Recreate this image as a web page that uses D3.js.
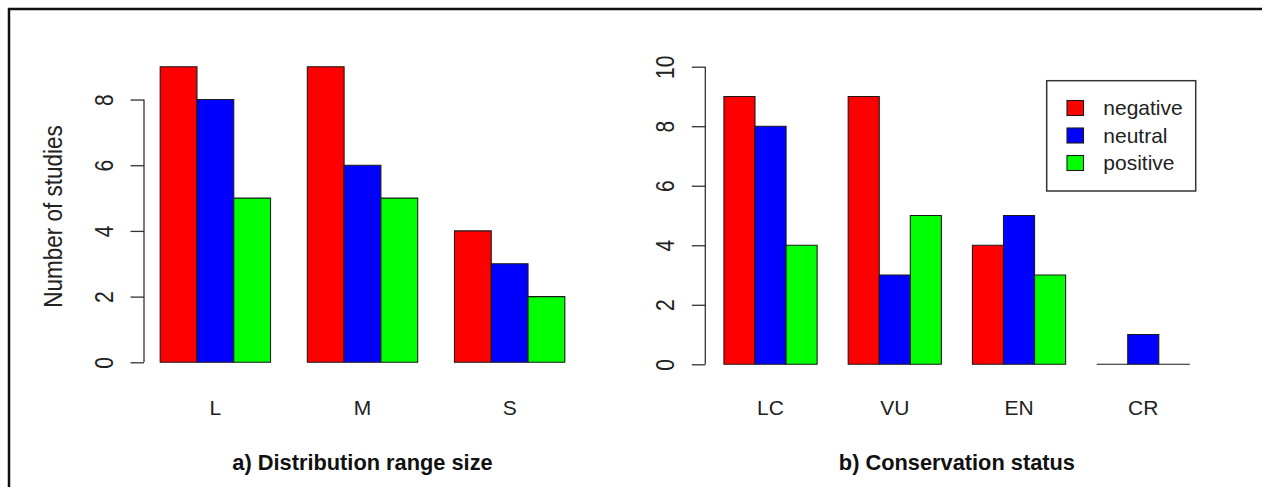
<!DOCTYPE html>
<html>
<head>
<meta charset="utf-8">
<script src="https://cdn.jsdelivr.net/npm/d3@7"></script>
<style>
  html, body { margin: 0; padding: 0; background: #fff; }
  svg { display: block; font-family: "Liberation Sans", Arial, Helvetica, sans-serif; }
</style>
</head>
<body>
<svg id="chart" width="1262" height="487"></svg>
<script>
// ---- Data ----
const seriesNames = ["negative", "neutral", "positive"];
const seriesColors = ["#ff0000", "#0000ff", "#00ff00"];

const categoriesA = ["L", "M", "S"];
const negativeA = [9, 9, 4];
const neutralA = [8, 6, 3];
const positiveA = [5, 5, 2];
const ticksA = [0, 2, 4, 6, 8];

const categoriesB = ["LC", "VU", "EN", "CR"];
const negativeB = [9, 9, 4, 0];
const neutralB = [8, 3, 5, 1];
const positiveB = [4, 5, 3, 0];
const ticksB = [0, 2, 4, 6, 8, 10];

const titleA = "a) Distribution range size";
const titleB = "b) Conservation status";
const yTitle = "Number of studies";

// ---- Drawing ----
const svg = d3.select("#chart");
const FS = 21;

// outer frame (top and left edges visible)
svg.append("path")
  .attr("d", "M9,487V9H1262")
  .attr("fill", "none").attr("stroke", "#111").attr("stroke-width", 2.5);

function panel(opts) {
  const { cats, series, ticks, yDomainMax, xRange, yRange, title, showYTitle, nUnits } = opts;
  // R barplot layout: each group = 1 gap + 3 bars; xlim extended 4%
  const lo = 1, hi = nUnits;
  const ext = (hi - lo) * 0.04;
  const x = d3.scaleLinear().domain([lo - ext, hi + ext]).range(xRange);
  const y = d3.scaleLinear().domain([0, yDomainMax]).range(yRange);
  const axisX = xRange[0];
  const g = svg.append("g");

  // bars
  const bars = [];
  cats.forEach((c, gi) => {
    series.forEach((vals, si) => {
      const u0 = 1 + gi * (series.length + 1) + si;
      bars.push({ u0, u1: u0 + 1, v: vals[gi], color: seriesColors[si] });
    });
  });
  g.selectAll("path.bar").data(bars).join("path")
    .attr("class", "bar")
    .attr("d", d => `M${x(d.u0)},${y(0)}V${y(d.v)}H${x(d.u1)}V${y(0)}Z`)
    .attr("fill", d => d.color)
    .attr("stroke", "#1a1a1a")
    .attr("stroke-width", 1.1);

  // y axis
  const axis = d3.axisLeft(y).tickValues(ticks).tickSize(13.5).tickSizeOuter(0).tickFormat(d3.format("d"));
  const ag = g.append("g").attr("transform", `translate(${axisX},0)`).call(axis);
  ag.select(".domain").remove();
  ag.selectAll(".tick line").attr("stroke", "#333").attr("stroke-width", 1.3);
  ag.append("line")
    .attr("x1", 0).attr("x2", 0)
    .attr("y1", y(ticks[0])).attr("y2", y(ticks[ticks.length - 1]))
    .attr("stroke", "#333").attr("stroke-width", 1.3);
  ag.selectAll(".tick text")
    .attr("x", null).attr("dy", null)
    .attr("transform", "translate(-31,0) scale(1.25,1) rotate(-90)")
    .attr("text-anchor", "middle")
    .attr("fill", "#222")
    .style("font-size", FS + "px")
    .style("font-family", '"Liberation Sans", Arial, sans-serif');

  // category labels
  g.selectAll("text.cat").data(cats).join("text")
    .attr("class", "cat")
    .attr("x", (c, gi) => x(1 + gi * (series.length + 1) + series.length / 2))
    .attr("y", 415)
    .attr("text-anchor", "middle")
    .attr("fill", "#222")
    .style("font-size", FS + "px")
    .text(c => c);

  // panel title
  g.append("text")
    .attr("x", (xRange[0] + xRange[1]) / 2)
    .attr("y", 470)
    .attr("text-anchor", "middle")
    .attr("fill", "#111")
    .style("font-size", "21.8px")
    .style("font-weight", "bold")
    .text(title);

  if (showYTitle) {
    g.append("text")
      .attr("transform", `translate(62,${(yRange[0] + yRange[1]) / 2 + 2}) scale(1.15,1) rotate(-90)`)
      .attr("text-anchor", "middle")
      .attr("fill", "#222")
      .style("font-size", "22.5px")
      .text(yTitle);
  }
  return { x, y };
}

panel({
  cats: categoriesA,
  series: [negativeA, neutralA, positiveA],
  ticks: ticksA,
  yDomainMax: 9,
  xRange: [144, 581],
  yRange: [362.3, 66.7],
  title: titleA,
  showYTitle: true,
  nUnits: 12
});

panel({
  cats: categoriesB,
  series: [negativeB, neutralB, positiveB],
  ticks: ticksB,
  yDomainMax: 10,
  xRange: [705.3, 1208.5],
  yRange: [364.3, 66.7],
  title: titleB,
  showYTitle: false,
  nUnits: 16
});

// legend
const lg = svg.append("g");
lg.append("rect")
  .attr("x", 1046.7).attr("y", 80.7).attr("width", 149).attr("height", 110.3)
  .attr("fill", "#fff").attr("stroke", "#333").attr("stroke-width", 1.5);
const rowY = d3.scalePoint().domain(seriesNames).range([108, 163]);
lg.selectAll("rect.sw").data(seriesNames).join("rect")
  .attr("class", "sw")
  .attr("x", 1067).attr("y", d => rowY(d) - 7.5)
  .attr("width", 16.5).attr("height", 15)
  .attr("fill", (d, i) => seriesColors[i])
  .attr("stroke", "#1a1a1a").attr("stroke-width", 1.1);
lg.selectAll("text.lt").data(seriesNames).join("text")
  .attr("class", "lt")
  .attr("x", 1103.3).attr("y", d => rowY(d) + 7)
  .attr("fill", "#222")
  .style("font-size", FS + "px")
  .text(d => d);
</script>
</body>
</html>
